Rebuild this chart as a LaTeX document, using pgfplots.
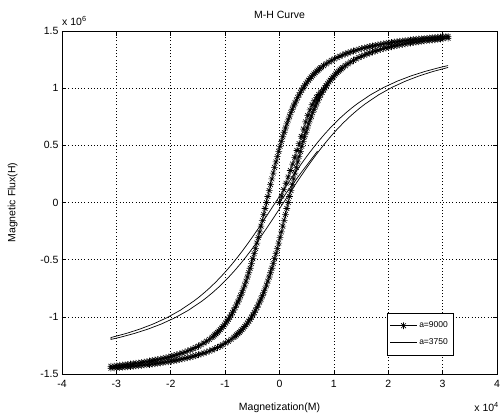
\documentclass[border=0pt]{standalone}
\usepackage{pgfplots}
\pgfplotsset{compat=1.18}
\usepackage{fontspec}
\setmainfont{Liberation Sans}
\pgfdeclareplotmark{mstar}{%
 \pgfpathmoveto{\pgfqpoint{-\pgfplotmarksize}{0pt}}\pgfpathlineto{\pgfqpoint{\pgfplotmarksize}{0pt}}%
 \pgfpathmoveto{\pgfqpoint{0pt}{-\pgfplotmarksize}}\pgfpathlineto{\pgfqpoint{0pt}{\pgfplotmarksize}}%
 \pgfpathmoveto{\pgfqpoint{-0.7071\pgfplotmarksize}{-0.7071\pgfplotmarksize}}\pgfpathlineto{\pgfqpoint{0.7071\pgfplotmarksize}{0.7071\pgfplotmarksize}}%
 \pgfpathmoveto{\pgfqpoint{-0.7071\pgfplotmarksize}{0.7071\pgfplotmarksize}}\pgfpathlineto{\pgfqpoint{0.7071\pgfplotmarksize}{-0.7071\pgfplotmarksize}}%
 \pgfusepathqstroke}
\begin{document}
\begin{tikzpicture}
\begin{axis}[name=ax,
 scale only axis, width=435pt, height=343pt,
 xmin=-4, xmax=4, ymin=-1.5, ymax=1.5,
 clip mode=individual,
 xtick={-4,-3,-2,-1,0,1,2,3,4},
 xticklabels={-4,-3,-2,-1,0,1,2,3,4},
 ytick={-1.5,-1,-0.5,0,0.5,1,1.5},
 yticklabels={-1.5,-1,-0.5,0,0.5,1,1.5},
 tick label style={font=\fontsize{10.5}{12}\selectfont},
 xticklabel style={yshift=-3pt},
 label style={font=\fontsize{10.5}{12}\selectfont},
 title style={font=\fontsize{10.5}{12}\selectfont, yshift=3pt},
 title={M-H Curve},
 xlabel={Magnetization(M)},
 ylabel={Magnetic Flux(H)},
 xlabel style={yshift=-8pt},
 ylabel style={yshift=16pt},
 axis line style={line width=0.6pt},
 tick style={line width=0.6pt, black},
 major tick length=4.5pt,
 tick align=inside,
 grid=major,
 major grid style={black, line width=0.6pt, dash pattern=on 0.8pt off 2.4pt},
 legend style={at={(0.746,0.055)}, anchor=south west, draw=black, line width=0.6pt,
   font=\fontsize{8.5}{10}\selectfont, inner ysep=7pt, inner xsep=3pt, row sep=5pt},
 legend cell align=left,
 legend image code/.code={\draw[mark repeat=2,mark phase=2,#1] plot coordinates {(0cm,0cm) (0.47cm,0cm) (0.94cm,0cm)};},
]
\addplot[black, line width=0.6pt, mark=mstar, mark size=3.4pt, mark options={line width=0.6pt}] coordinates {
(3.10,1.4525) (3.06,1.4511) (3.01,1.4492) (2.96,1.4473) (2.91,1.4454) (2.86,1.4434) (2.81,1.4413) (2.76,1.4392) (2.71,1.4370) (2.66,1.4347)
(2.61,1.4323) (2.56,1.4298) (2.51,1.4273) (2.46,1.4246) (2.41,1.4219) (2.36,1.4190) (2.31,1.4161) (2.26,1.4130) (2.21,1.4098) (2.16,1.4065)
(2.11,1.4030) (2.06,1.3993) (2.01,1.3956) (1.96,1.3916) (1.91,1.3874) (1.86,1.3831) (1.81,1.3785) (1.76,1.3738) (1.71,1.3687) (1.66,1.3634)
(1.61,1.3578) (1.56,1.3519) (1.51,1.3457) (1.46,1.3391) (1.41,1.3321) (1.36,1.3247) (1.31,1.3168) (1.26,1.3083) (1.21,1.2993) (1.16,1.2897)
(1.11,1.2793) (1.06,1.2682) (1.01,1.2561) (0.96,1.2431) (0.91,1.2290) (0.86,1.2137) (0.81,1.1969) (0.76,1.1786) (0.735,1.1687) (0.71,1.1584)
(0.685,1.1476) (0.66,1.1362) (0.635,1.1243) (0.61,1.1117) (0.585,1.0985) (0.56,1.0846) (0.535,1.0699) (0.51,1.0545) (0.485,1.0381) (0.46,1.0209)
(0.435,1.0028) (0.41,0.9836) (0.385,0.9633) (0.36,0.9419) (0.335,0.9193) (0.31,0.8954) (0.285,0.8702) (0.26,0.8436)
(0.235,0.8155) (0.21,0.7860) (0.185,0.7549) (0.16,0.7222) (0.135,0.6879)
(0.11,0.6519) (0.085,0.6142) (0.06,0.5749) (0.035,0.5340) (0.01,0.4915) (-0.015,0.4474) (-0.04,0.4018) (-0.065,0.3549) (-0.09,0.3067) (-0.115,0.2574)
(-0.14,0.2071) (-0.165,0.1561) (-0.19,0.1044) (-0.215,0.0523) (-0.24,0) (-0.265,-0.0523) (-0.29,-0.1044) (-0.315,-0.1561) (-0.34,-0.2071) (-0.365,-0.2574)
(-0.39,-0.3067) (-0.415,-0.3549) (-0.44,-0.4018) (-0.465,-0.4474) (-0.49,-0.4915) (-0.515,-0.5340) (-0.54,-0.5749) (-0.565,-0.6142) (-0.59,-0.6519) (-0.615,-0.6879)
(-0.64,-0.7222) (-0.665,-0.7549) (-0.69,-0.7860) (-0.715,-0.8155) (-0.74,-0.8436)
(-0.765,-0.8702) (-0.79,-0.8954) (-0.815,-0.9193) (-0.84,-0.9419) (-0.865,-0.9633) (-0.89,-0.9836) (-0.915,-1.0028) (-0.94,-1.0209) (-0.965,-1.0381) (-0.99,-1.0545)
(-1.015,-1.0699) (-1.04,-1.0846) (-1.065,-1.0985) (-1.09,-1.1117) (-1.115,-1.1243) (-1.14,-1.1362) (-1.165,-1.1476) (-1.19,-1.1584) (-1.215,-1.1687) (-1.24,-1.1786)
(-1.29,-1.1969) (-1.34,-1.2137) (-1.39,-1.2290) (-1.44,-1.2431) (-1.49,-1.2561) (-1.54,-1.2682) (-1.59,-1.2793) (-1.64,-1.2897) (-1.69,-1.2993) (-1.74,-1.3083)
(-1.79,-1.3168) (-1.84,-1.3247) (-1.89,-1.3321) (-1.94,-1.3391) (-1.99,-1.3457) (-2.04,-1.3519) (-2.09,-1.3578) (-2.14,-1.3634) (-2.19,-1.3687) (-2.24,-1.3738)
(-2.29,-1.3785) (-2.34,-1.3831) (-2.39,-1.3874) (-2.44,-1.3916) (-2.49,-1.3956) (-2.54,-1.3993) (-2.59,-1.4030) (-2.64,-1.4065) (-2.69,-1.4098) (-2.74,-1.4130)
(-2.79,-1.4161) (-2.84,-1.4190) (-2.89,-1.4219) (-2.94,-1.4246) (-2.99,-1.4273) (-3.04,-1.4298) (-3.10,-1.4328)
(-3.10,-1.4496) (-3.04,-1.4473) (-2.99,-1.4454) (-2.94,-1.4434) (-2.89,-1.4413) (-2.84,-1.4392) (-2.79,-1.4370) (-2.74,-1.4347) (-2.69,-1.4323) (-2.64,-1.4298)
(-2.59,-1.4273) (-2.54,-1.4246) (-2.49,-1.4219) (-2.44,-1.4190) (-2.39,-1.4161) (-2.34,-1.4130) (-2.29,-1.4098) (-2.24,-1.4065) (-2.19,-1.4030) (-2.14,-1.3993)
(-2.09,-1.3956) (-2.04,-1.3916) (-1.99,-1.3874) (-1.94,-1.3831) (-1.89,-1.3785) (-1.84,-1.3738) (-1.79,-1.3687) (-1.74,-1.3634) (-1.69,-1.3578) (-1.64,-1.3519)
(-1.59,-1.3457) (-1.54,-1.3391) (-1.49,-1.3321) (-1.44,-1.3247) (-1.39,-1.3168) (-1.34,-1.3083) (-1.29,-1.2993) (-1.24,-1.2897) (-1.19,-1.2793) (-1.14,-1.2682)
(-1.09,-1.2561) (-1.04,-1.2431) (-0.99,-1.2290) (-0.94,-1.2137) (-0.89,-1.1969) (-0.84,-1.1786) (-0.815,-1.1687) (-0.79,-1.1584) (-0.765,-1.1476) (-0.74,-1.1362)
(-0.715,-1.1243) (-0.69,-1.1117) (-0.665,-1.0985) (-0.64,-1.0846) (-0.615,-1.0699) (-0.59,-1.0545) (-0.565,-1.0381) (-0.54,-1.0209) (-0.515,-1.0028) (-0.49,-0.9836)
(-0.465,-0.9633) (-0.44,-0.9419) (-0.415,-0.9193) (-0.39,-0.8954) (-0.365,-0.8702) (-0.34,-0.8436)
(-0.315,-0.8155) (-0.29,-0.7860) (-0.265,-0.7549) (-0.24,-0.7222) (-0.215,-0.6879) (-0.19,-0.6519)
(-0.165,-0.6142) (-0.14,-0.5749) (-0.115,-0.5340) (-0.09,-0.4915) (-0.065,-0.4474) (-0.04,-0.4018) (-0.015,-0.3549) (0.01,-0.3067) (0.035,-0.2574) (0.06,-0.2071)
(0.085,-0.1561) (0.11,-0.1044) (0.135,-0.0523) (0.16,0) (0.185,0.0523) (0.21,0.1044) (0.235,0.1561) (0.26,0.2071) (0.285,0.2574) (0.31,0.3067)
(0.335,0.3549) (0.36,0.4018) (0.385,0.4474) (0.41,0.4915) (0.435,0.5340) (0.46,0.5749) (0.485,0.6142) (0.51,0.6519) (0.535,0.6879) (0.56,0.7222)
(0.585,0.7549) (0.61,0.7860) (0.635,0.8155) (0.66,0.8436)
(0.685,0.8702) (0.71,0.8954) (0.735,0.9193) (0.76,0.9419) (0.785,0.9633) (0.81,0.9836) (0.835,1.0028) (0.86,1.0209) (0.885,1.0381) (0.91,1.0545)
(0.935,1.0699) (0.96,1.0846) (0.985,1.0985) (1.01,1.1117) (1.035,1.1243) (1.06,1.1362) (1.085,1.1476) (1.11,1.1584) (1.135,1.1687) (1.16,1.1786)
(1.21,1.1969) (1.26,1.2137) (1.31,1.2290) (1.36,1.2431) (1.41,1.2561) (1.46,1.2682) (1.51,1.2793) (1.56,1.2897) (1.61,1.2993) (1.66,1.3083)
(1.71,1.3168) (1.76,1.3247) (1.81,1.3321) (1.86,1.3391) (1.91,1.3457) (1.96,1.3519) (2.01,1.3578) (2.06,1.3634) (2.11,1.3687) (2.16,1.3738)
(2.21,1.3785) (2.26,1.3831) (2.31,1.3874) (2.36,1.3916) (2.41,1.3956) (2.46,1.3993) (2.51,1.4030) (2.56,1.4065) (2.61,1.4098) (2.66,1.4130)
(2.71,1.4161) (2.76,1.4190) (2.81,1.4219) (2.86,1.4246) (2.91,1.4273) (2.96,1.4298) (3.01,1.4323) (3.10,1.4365)
};
\addlegendentry{a=9000}
\addplot[black, line width=0.7pt, no marks] coordinates {
(3.1,1.1977) (2.925,1.1782) (2.675,1.1462) (2.425,1.1083) (2.175,1.0631) (1.925,1.0086) (1.675,0.9424) (1.425,0.8621) (1.325,0.8253) (1.225,0.7857)
(1.125,0.7430) (1.025,0.6971) (0.925,0.6480) (0.825,0.5956) (0.725,0.5398) (0.625,0.4808) (0.525,0.4188) (0.425,0.3538) (0.325,0.2864) (0.225,0.2168)
(0.125,0.1455) (0.025,0.0730) (-0.075,0) (-0.175,-0.0730) (-0.275,-0.1455) (-0.375,-0.2168) (-0.475,-0.2864) (-0.575,-0.3538) (-0.675,-0.4188) (-0.775,-0.4808)
(-0.875,-0.5398) (-0.975,-0.5956) (-1.075,-0.6480) (-1.175,-0.6971) (-1.275,-0.7430) (-1.375,-0.7857) (-1.475,-0.8253) (-1.575,-0.8621) (-1.825,-0.9424) (-2.075,-1.0086)
(-2.325,-1.0631) (-2.575,-1.1083) (-2.825,-1.1462) (-3.1,-1.1811)
(-3.1,-1.1977) (-2.925,-1.1782) (-2.675,-1.1462) (-2.425,-1.1083) (-2.175,-1.0631) (-1.925,-1.0086) (-1.675,-0.9424) (-1.425,-0.8621) (-1.325,-0.8253) (-1.225,-0.7857)
(-1.125,-0.7430) (-1.025,-0.6971) (-0.925,-0.6480) (-0.825,-0.5956) (-0.725,-0.5398) (-0.625,-0.4808) (-0.525,-0.4188) (-0.425,-0.3538) (-0.325,-0.2864) (-0.225,-0.2168)
(-0.125,-0.1455) (-0.025,-0.0730) (0.075,0) (0.175,0.0730) (0.275,0.1455) (0.375,0.2168) (0.475,0.2864) (0.575,0.3538) (0.675,0.4188) (0.775,0.4808)
(0.875,0.5398) (0.975,0.5956) (1.075,0.6480) (1.175,0.6971) (1.275,0.7430) (1.375,0.7857) (1.475,0.8253) (1.575,0.8621) (1.825,0.9424) (2.075,1.0086)
(2.325,1.0631) (2.575,1.1083) (2.825,1.1462) (3.1,1.1811)
};
\addlegendentry{a=3750}
\addplot[black, line width=0.6pt, mark=mstar, mark size=3.4pt, mark options={line width=0.6pt}, forget plot] coordinates {
(0,0) (0.04,0.056) (0.08,0.112) (0.12,0.168) (0.16,0.224) (0.2,0.28) (0.24,0.336) (0.28,0.395) (0.32,0.455) (0.36,0.515)
(0.40,0.578) (0.44,0.642) (0.48,0.705) (0.52,0.76) (0.56,0.81) (0.60,0.855) (0.64,0.89) (0.68,0.92) (0.72,0.945) (0.76,0.965) (0.81,0.99) (0.86,1.021)
};
\addplot[black, line width=0.7pt, no marks, forget plot] coordinates {
(0,0) (0.1,0.066) (0.2,0.132) (0.3,0.197) (0.4,0.262) (0.5,0.325) (0.6,0.388) (0.7,0.45)
};
\node[anchor=south west, font=\fontsize{10.5}{12}\selectfont, inner sep=0pt] at ([yshift=5pt]rel axis cs:0,1) {x 10\textsuperscript{6}};
\node[anchor=north east, font=\fontsize{10.5}{12}\selectfont, inner sep=0pt] at ([xshift=2pt,yshift=-28pt]rel axis cs:1,0) {x 10\textsuperscript{4}};
\end{axis}
\pgfresetboundingbox
\path[use as bounding box] ([xshift=-62pt,yshift=-44pt]ax.south west) rectangle ([xshift=6pt,yshift=31pt]ax.north east);
\end{tikzpicture}
\end{document}
